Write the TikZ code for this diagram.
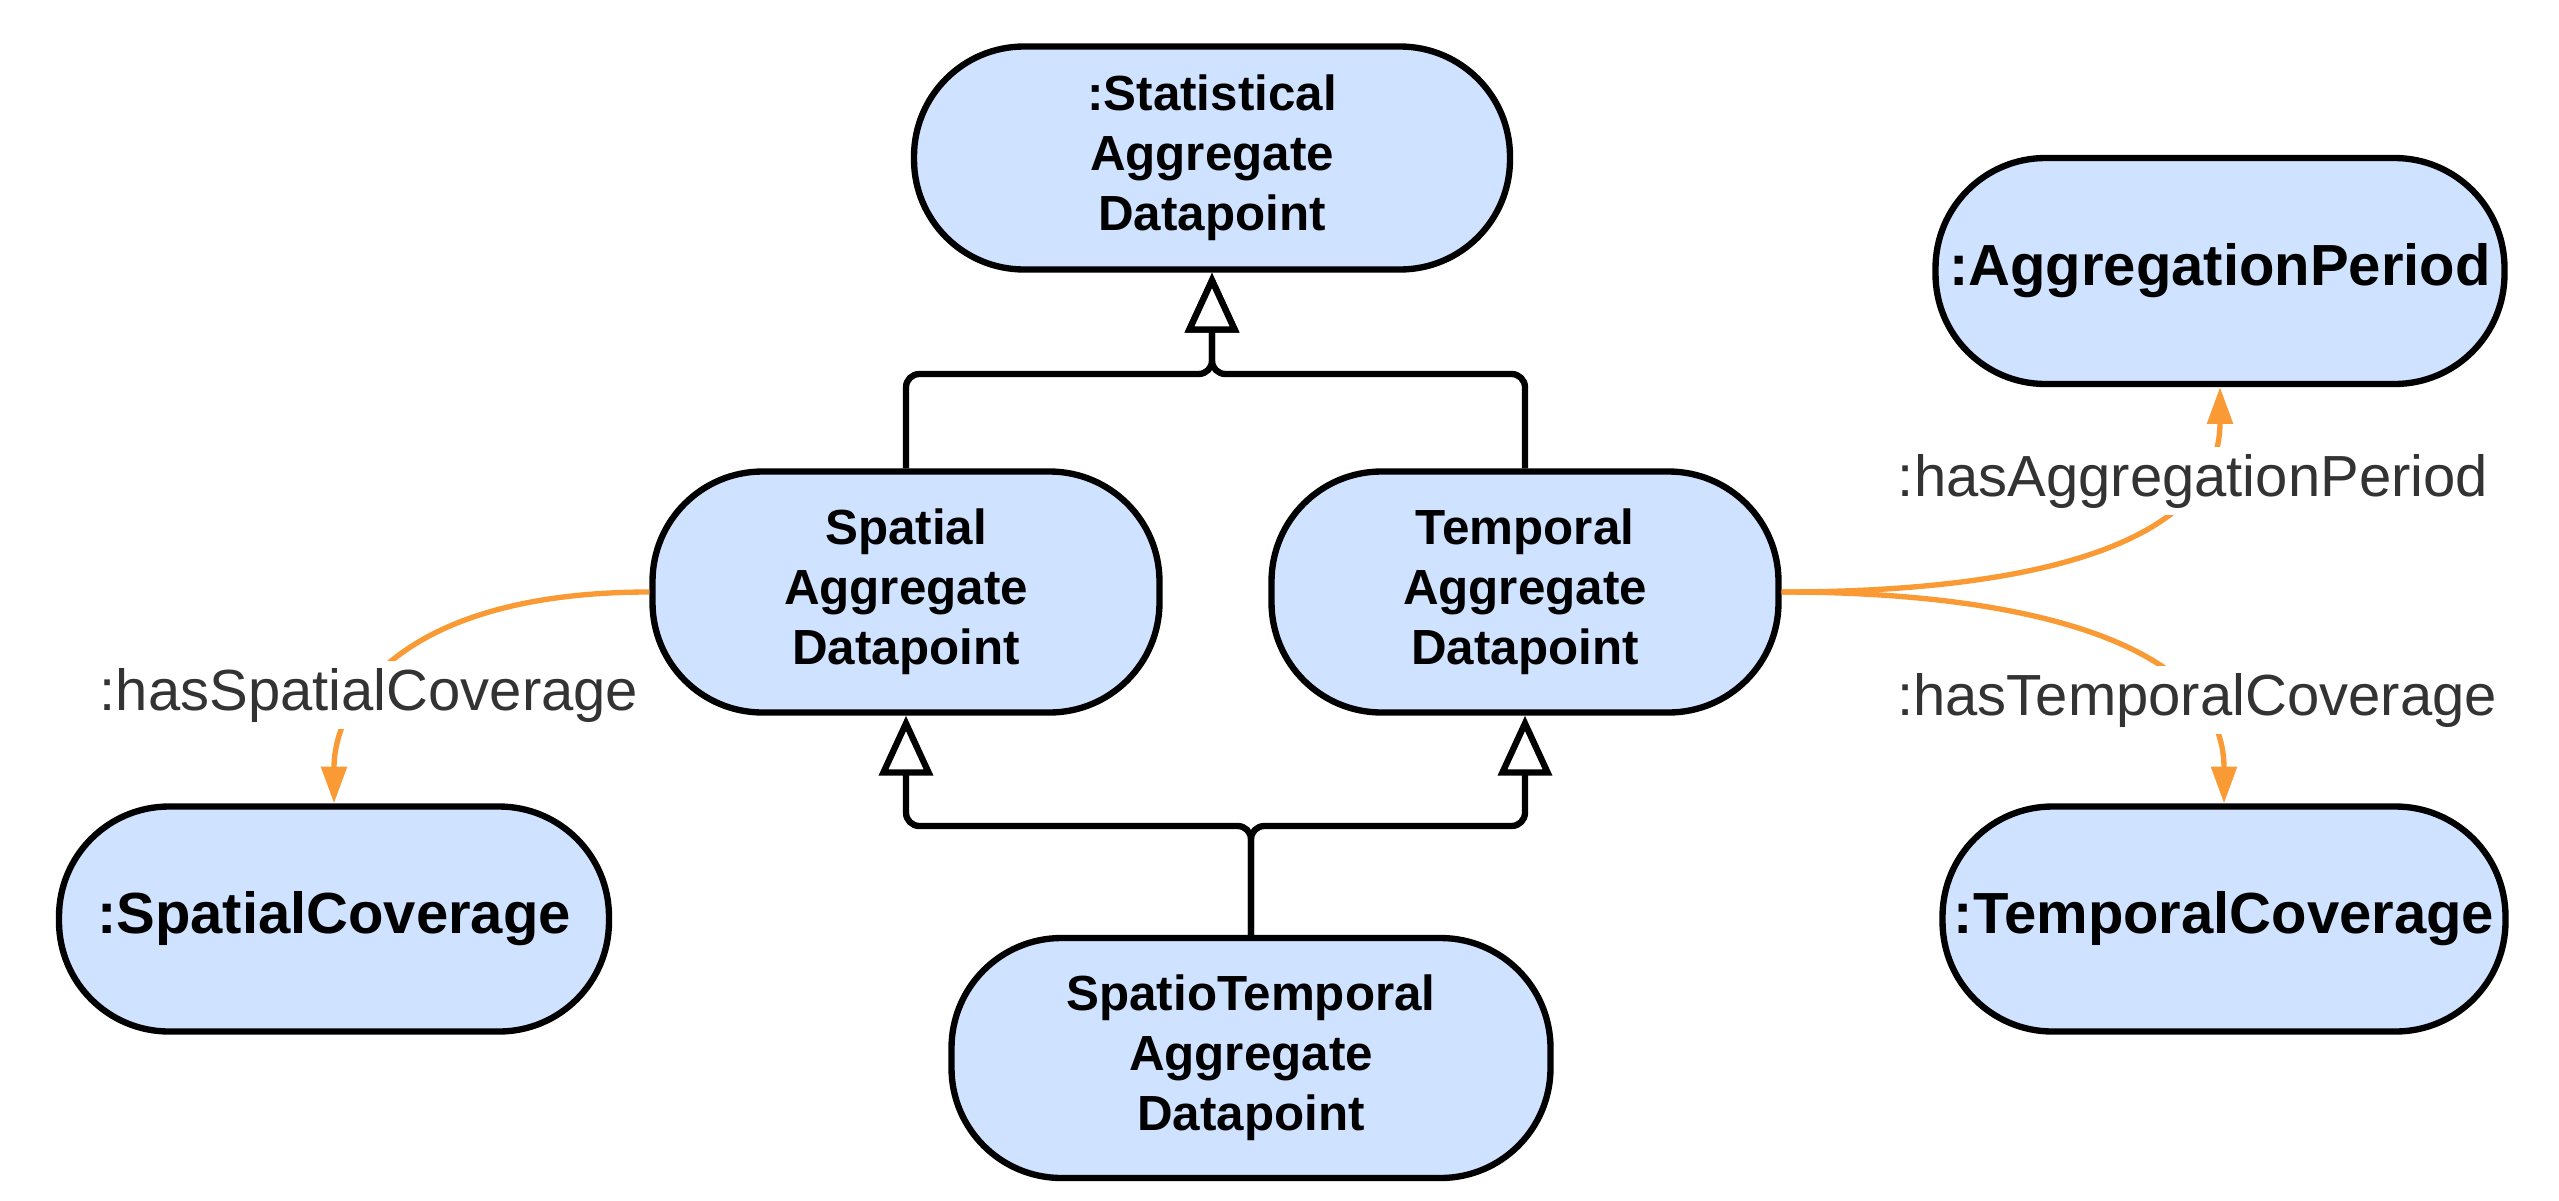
\documentclass[tikz,border=0pt]{standalone}
\usepackage{fontspec}
\setmainfont{Liberation Sans}
\usetikzlibrary{arrows.meta}
\definecolor{boxblue}{HTML}{CFE2FF}
\definecolor{relorange}{HTML}{F99A34}
\definecolor{labelgray}{HTML}{333333}
\begin{document}
\begin{tikzpicture}[x=0.3pt,y=-0.3pt,
  box/.style={draw=black, line width=1.9pt, fill=boxblue, rounded corners=33pt, inner sep=0pt, align=center, font=\bfseries\fontsize{14.8}{18}\selectfont},
  bigbox/.style={box, font=\bfseries\fontsize{17.4}{21}\selectfont},
  gen/.style={draw=black, line width=1.9pt, rounded corners=4pt, -{Triangle[open, fill=white, length=18pt, width=16pt]}},
  rel/.style={draw=relorange, line width=1.6pt, -{Triangle[length=11pt, width=7.5pt]}},
  rellabel/.style={fill=white, text=labelgray, inner sep=2pt, font=\fontsize{17.4}{21}\selectfont}]
\fill[white] (0,0) rectangle (2559,1200);
\useasboundingbox (0,0) rectangle (2559,1200);

\node[box, minimum width=178.8pt, minimum height=66.9pt] (stat) at (1212,158) {:Statistical\\Aggregate\\Datapoint};
\node[box, minimum width=152.1pt, minimum height=72.3pt] (spat) at (906,592) {Spatial\\Aggregate\\Datapoint};
\node[box, minimum width=152.1pt, minimum height=72.3pt] (temp) at (1525,592) {Temporal\\Aggregate\\Datapoint};
\node[box, minimum width=179.7pt, minimum height=72pt] (spt) at (1251,1058) {SpatioTemporal\\Aggregate\\Datapoint};
\node[bigbox, minimum width=170.7pt, minimum height=67.8pt] (agg) at (2220,271) {:AggregationPeriod};
\node[bigbox, minimum width=168.9pt, minimum height=67.5pt] (tcov) at (2224,919) {:TemporalCoverage};
\node[bigbox, minimum width=165pt, minimum height=67.5pt] (scov) at (334,919) {:SpatialCoverage};

\coordinate (j1) at (1212,374);
\coordinate (j2) at (1251,826);
\draw[gen] (spat.north) |- (j1) -- (stat.south);
\draw[gen] (temp.north) |- (j1) -- (stat.south);
\draw[gen] (spt.north) -- (spt.north |- j2) -| (spat.south);
\draw[gen] (spt.north) -- (spt.north |- j2) -| (temp.south);

\draw[rel] (spat.west) .. controls +(-250,0) and +(0,-100) .. (scov.north);
\draw[rel] (temp.east) .. controls +(270,0) and +(0,150) .. (agg.south);
\draw[rel] (temp.east) .. controls +(270,0) and +(0,-150) .. (tcov.north);

\node[rellabel] (l1) at (369,695) {:hasSpatialCoverage};
\node[rellabel] (l2) at (2193,481) {:hasAggregationPeriod};
\node[rellabel] (l3) at (2197,700) {:hasTemporalCoverage};
\end{tikzpicture}
\end{document}
